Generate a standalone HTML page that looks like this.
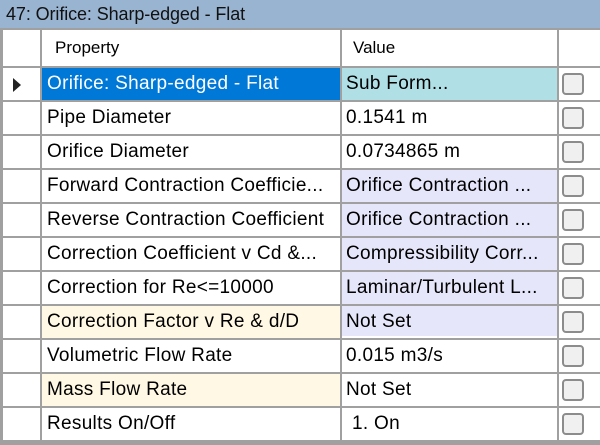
<!DOCTYPE html>
<html><head><meta charset="utf-8">
<style>
html,body{margin:0;padding:0;}
body{width:600px;height:445px;position:relative;overflow:hidden;background:#fff;font-family:"Liberation Sans",Arial,sans-serif;}
.abs{position:absolute;}
.title{left:0;top:0;width:600px;height:28px;background:#99b4d1;}
.title span{position:absolute;left:6px;top:4px;font-size:18px;line-height:20px;color:#111;letter-spacing:-0.1px;white-space:nowrap;}
.hl{position:absolute;left:0;width:600px;height:2px;background:#a0a0a0;}
.vl{position:absolute;top:28px;width:2px;height:414px;background:#a0a0a0;}
.cell{position:absolute;height:32px;line-height:32px;font-size:19px;letter-spacing:0.3px;color:#000;white-space:nowrap;overflow:hidden;}
.p{left:42px;width:298px;padding-left:5px;box-sizing:border-box;}
.v{left:342px;width:215px;padding-left:4px;box-sizing:border-box;}
.hdr{position:absolute;top:30px;height:36px;line-height:36px;font-size:17px;color:#000;white-space:nowrap;}
.cb{position:absolute;left:562px;width:18px;height:18px;border:2px solid #8c8c8c;border-radius:4px;background:#f0f0f0;}
</style></head><body>
<div class="abs title"><span>47: Orifice: Sharp-edged - Flat</span></div>

<!-- cell backgrounds -->
<div class="abs" style="left:42px;top:68px;width:298px;height:32px;background:#0078d7;"></div>
<div class="abs" style="left:342px;top:68px;width:215px;height:32px;background:#b0e0e6;"></div>
<div class="abs" style="left:342px;top:170px;width:215px;height:166px;background:#e6e6fa;"></div>
<div class="abs" style="left:42px;top:306px;width:298px;height:32px;background:#fff8e4;"></div>
<div class="abs" style="left:42px;top:374px;width:298px;height:32px;background:#fff8e4;"></div>

<!-- grid lines -->
<div class="hl" style="top:28px;"></div>
<div class="hl" style="top:66px;"></div>
<div class="hl" style="top:100px;"></div>
<div class="hl" style="top:134px;"></div>
<div class="hl" style="top:168px;"></div>
<div class="hl" style="top:202px;"></div>
<div class="hl" style="top:236px;"></div>
<div class="hl" style="top:270px;"></div>
<div class="hl" style="top:304px;"></div>
<div class="hl" style="top:338px;"></div>
<div class="hl" style="top:372px;"></div>
<div class="hl" style="top:406px;"></div>
<div class="abs" style="left:0;top:440px;width:600px;height:5px;background:#a0a0a0;"></div>
<div class="abs" style="left:0;top:28px;width:3px;height:417px;background:#a0a0a0;"></div>
<div class="vl" style="left:40px;"></div>
<div class="vl" style="left:340px;"></div>
<div class="vl" style="left:557px;"></div>

<!-- header -->
<div class="hdr" style="left:55px;">Property</div>
<div class="hdr" style="left:353px;">Value</div>

<!-- row indicator -->
<div class="abs" style="left:13px;top:78px;width:0;height:0;border-top:7px solid transparent;border-bottom:7px solid transparent;border-left:8px solid #222;"></div>

<!-- rows -->
<div class="cell p" style="top:68px;color:#fff;">Orifice: Sharp-edged - Flat</div>
<div class="cell v" style="top:68px;">Sub Form...</div>

<div class="cell p" style="top:102px;">Pipe Diameter</div>
<div class="cell v" style="top:102px;">0.1541 m</div>

<div class="cell p" style="top:136px;">Orifice Diameter</div>
<div class="cell v" style="top:136px;">0.0734865 m</div>

<div class="cell p" style="top:170px;">Forward Contraction Coefficie...</div>
<div class="cell v" style="top:170px;">Orifice Contraction ...</div>

<div class="cell p" style="top:204px;">Reverse Contraction Coefficient</div>
<div class="cell v" style="top:204px;">Orifice Contraction ...</div>

<div class="cell p" style="top:238px;">Correction Coefficient v Cd &amp;...</div>
<div class="cell v" style="top:238px;">Compressibility Corr...</div>

<div class="cell p" style="top:272px;">Correction for Re&lt;=10000</div>
<div class="cell v" style="top:272px;">Laminar/Turbulent L...</div>

<div class="cell p" style="top:306px;">Correction Factor v Re &amp; d/D</div>
<div class="cell v" style="top:306px;">Not Set</div>

<div class="cell p" style="top:340px;">Volumetric Flow Rate</div>
<div class="cell v" style="top:340px;">0.015 m3/s</div>

<div class="cell p" style="top:374px;">Mass Flow Rate</div>
<div class="cell v" style="top:374px;">Not Set</div>

<div class="cell p" style="top:408px;">Results On/Off</div>
<div class="cell v" style="top:408px;padding-left:10px;">1. On</div>

<!-- checkboxes -->
<div class="cb" style="top:73px;"></div>
<div class="cb" style="top:107px;"></div>
<div class="cb" style="top:141px;"></div>
<div class="cb" style="top:175px;"></div>
<div class="cb" style="top:209px;"></div>
<div class="cb" style="top:243px;"></div>
<div class="cb" style="top:277px;"></div>
<div class="cb" style="top:311px;"></div>
<div class="cb" style="top:345px;"></div>
<div class="cb" style="top:379px;"></div>
<div class="cb" style="top:413px;"></div>
</body></html>
